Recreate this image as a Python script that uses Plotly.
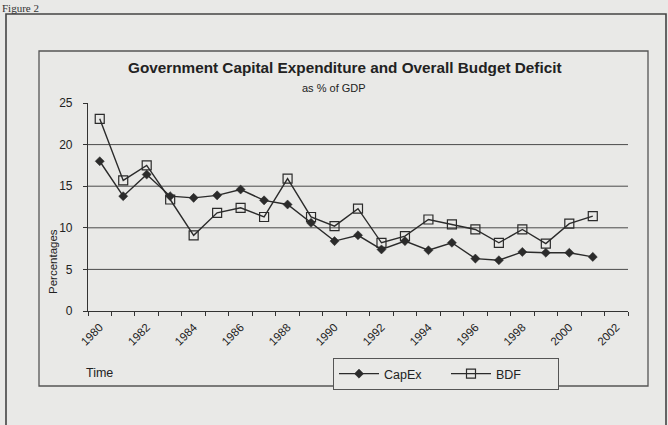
import plotly.graph_objects as go

years = list(range(1980, 2002))
capex = [18.0, 13.8, 16.4, 13.8, 13.6, 13.9, 14.6, 13.3, 12.8, 10.6, 8.4, 9.1,
         7.4, 8.4, 7.3, 8.2, 6.3, 6.1, 7.1, 7.0, 7.0, 6.5]
bdf = [23.1, 15.7, 17.5, 13.4, 9.1, 11.8, 12.4, 11.3, 15.9, 11.3, 10.2, 12.3,
       8.2, 9.0, 11.0, 10.4, 9.8, 8.2, 9.8, 8.1, 10.5, 11.4]
tick_years = list(range(1980, 2003, 2))
tick_labels = [str(y) for y in tick_years]
y_ticks = [0, 5, 10, 15, 20, 25]
grid_vals = [5, 10, 15, 20]

# geometry helpers (pixel -> paper)
L, R, T, B = 88, 628, 103, 311
W, H = R - L, B - T
def px(x):
    return (x - L) / W
def py(y):
    return (B - y) / H

ink = "#2b2b2b"
bg = "#e9e9e7"
fam = "Liberation Sans, Arial"

fig = go.Figure()
fig.add_trace(go.Scatter(
    x=years, y=capex, name="CapEx", mode="lines+markers",
    line=dict(color=ink, width=1.4),
    marker=dict(symbol="diamond", size=7, color=ink, line=dict(color=ink, width=0.5)),
))
fig.add_trace(go.Scatter(
    x=years, y=bdf, name="BDF", mode="lines+markers",
    line=dict(color=ink, width=1.4),
    marker=dict(symbol="square-open", size=9, color=ink, line=dict(width=1.2)),
))

shapes = []
for g in grid_vals:
    shapes.append(dict(type="line", xref="paper", yref="y", x0=0, x1=1, y0=g, y1=g,
                       line=dict(color="#4a4a4a", width=1), layer="below"))
# inner chart-area frame
shapes.append(dict(type="rect", xref="paper", yref="paper",
                   x0=px(39), x1=px(648), y0=py(386), y1=py(51),
                   line=dict(color="#555555", width=1.3)))
# outer frame
shapes.append(dict(type="rect", xref="paper", yref="paper",
                   x0=px(6), x1=px(666), y0=py(440), y1=py(14),
                   line=dict(color="#444444", width=1.6)))

annotations = [
    dict(text="<b>Government Capital Expenditure and Overall Budget Deficit</b>",
         xref="paper", yref="paper", x=px(345), y=py(68), showarrow=False,
         xanchor="center", yanchor="middle",
         font=dict(size=15.3, color="#222222", family=fam)),
    dict(text="as % of GDP", xref="paper", yref="paper", x=px(334), y=py(88),
         showarrow=False, xanchor="center", yanchor="middle",
         font=dict(size=11, color="#222222", family=fam)),
    dict(text="Percentages", xref="paper", yref="paper", x=px(53), y=py(262),
         showarrow=False, textangle=-90, xanchor="center", yanchor="middle",
         font=dict(size=11.5, color="#222222", family=fam)),
    dict(text="Time", xref="paper", yref="paper", x=px(99), y=py(373),
         showarrow=False, xanchor="center", yanchor="middle",
         font=dict(size=12.5, color="#222222", family=fam)),
    dict(text="Figure 2", xref="paper", yref="paper", x=px(0), y=py(0),
         showarrow=False, xanchor="left", yanchor="top",
         font=dict(size=11, color="#333333", family="Liberation Serif, Times New Roman")),
]

fig.update_layout(
    width=668, height=425,
    margin=dict(l=L, r=668 - R, t=T, b=425 - B),
    paper_bgcolor=bg, plot_bgcolor=bg,
    font=dict(family=fam, color="#222222", size=11),
    showlegend=True,
    legend=dict(orientation="h", x=px(333), y=py(358), xanchor="left", yanchor="top",
                bgcolor=bg, bordercolor="#555555", borderwidth=1,
                font=dict(size=12.5, color="#222222", family=fam), itemwidth=40,
                entrywidth=57, entrywidthmode="pixels", tracegroupgap=0),
    shapes=shapes,
    annotations=annotations,
)
fig.update_xaxes(
    range=[1979.5, 2002.5], tickvals=tick_years, ticktext=tick_labels,
    tickangle=-45, ticks="", showgrid=False, zeroline=False,
    showline=True, linecolor="#333333", linewidth=1.2,
    tickfont=dict(size=11.5, color="#222222"), ticklabelstandoff=4,
    minor=dict(tick0=1979.5, dtick=1, ticks="outside", ticklen=4, tickcolor="#333333", showgrid=False),
)
fig.update_yaxes(
    range=[0, 25], tickvals=y_ticks, ticks="outside", ticklen=4, tickcolor="#333333",
    showgrid=False, zeroline=False, showline=True, linecolor="#333333", linewidth=1.2,
    tickfont=dict(size=12, color="#222222"), ticklabelstandoff=8,
)

fig.write_html("out.html", config={"displayModeBar": False},
               post_script="document.body.style.margin='0';document.body.style.background='%s';" % bg)
